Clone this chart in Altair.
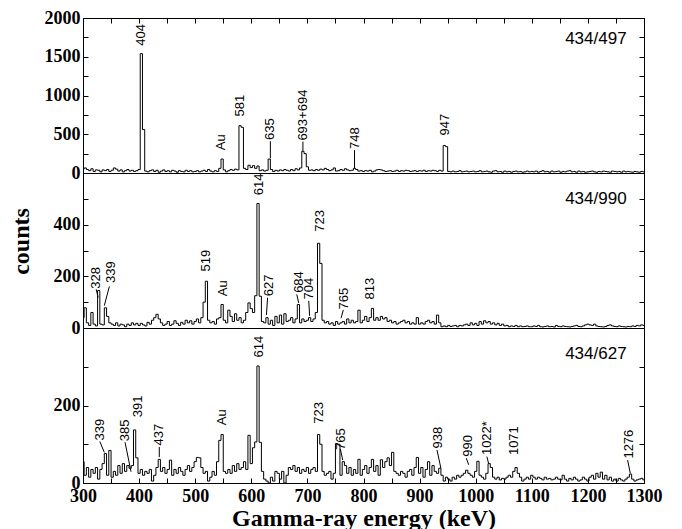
import altair as alt
import pandas as pd

# channel energies (keV), 4 keV bins
energy = list(range(300, 1301, 4))

# ---------------- spectrum 434/497 ----------------
counts_497 = (
    [50, 65, 45, 30, 55, 20, 40, 35, 15, 40, 30, 45, 20, 35, 65, 50, 25, 40, 15, 30, 45, 25, 35, 20, 30]
    + [45, 1540, 560, 25, 15, 30, 40, 20, 35, 10, 25, 40, 20, 30, 15, 35, 25, 10, 30, 20, 15, 35, 20, 30, 15]
    + [20, 30, 15, 25, 35, 20, 45, 25, 15, 30, 20, 60, 180, 40, 15, 30, 45, 35, 50, 40, 610, 590, 60, 45, 100]
    + [70, 95, 60, 90, 30, 40, 25, 35, 180, 45, 20, 35, 25, 40, 30, 45, 35, 25, 45, 30, 55, 40, 65, 280, 250]
    + [80, 35, 40, 30, 45, 35, 50, 40, 60, 45, 30, 40, 65, 25, 30, 45, 35, 55, 40, 30, 35, 60, 45, 25, 30]
    + [20, 30, 25, 35, 15, 25, 40, 45, 40, 30, 20, 25, 30, 20, 25, 35, 20, 30, 25, 35, 30, 20, 25, 30, 20]
    + [30, 25, 35, 20, 30, 25, 35, 30, 20, 35, 25, 355, 340, 20, 15, 25, 15, 20, 30, 15, 20, 25, 15, 20, 25]
    + [15, 20, 30, 15, 20, 25, 15, 10, 25, 30, 15, 20, 10, 25, 15, 20, 10, 20, 25, 15, 20, 10, 15, 25, 15]
    + [20, 15, 25, 10, 20, 30, 15, 20, 10, 25, 15, 20, 25, 10, 20, 15, 25, 30, 15, 20, 10, 25, 15, 20, 10]
    + [15, 20, 25, 15, 10, 20, 15, 25, 20, 15, 10, 25, 20, 15, 20, 10, 25, 15, 20, 15, 10, 20, 15, 10, 20]
    + [15]
)
labels_497 = ["404", "Au", "581", "635", "693+694", "748", "947"]
lab_x_497 = [403, 546, 579, 634, 692, 784, 946]
lab_y_497 = [1641, 295, 730, 427, 418, 311, 483]
lead_497 = {"x1": [634, 692, 784], "y1": [410, 405, 295], "x2": [634, 692, 784], "y2": [190, 285, 60]}

# ---------------- spectrum 434/990 ----------------
counts_990 = (
    [40, 78, 20, 10, 60, 15, 8, 145, 15, 12, 78, 45, 20, 15, 10, 20, 8, 15, 12, 5, 15, 10, 20, 12, 18]
    + [10, 18, 12, 8, 22, 15, 30, 40, 53, 35, 20, 10, 15, 25, 10, 15, 28, 18, 10, 22, 15, 30, 20, 28, 15]
    + [25, 35, 20, 40, 100, 181, 30, 20, 25, 15, 35, 40, 91, 30, 20, 69, 45, 25, 55, 30, 40, 20, 30, 60, 97]
    + [75, 60, 125, 482, 123, 25, 20, 40, 15, 30, 10, 45, 20, 50, 15, 55, 25, 30, 40, 20, 35, 91, 20, 35, 25]
    + [30, 40, 25, 35, 60, 328, 250, 30, 20, 25, 15, 20, 10, 25, 15, 20, 25, 15, 35, 20, 30, 20, 25, 69, 20]
    + [30, 45, 25, 40, 76, 30, 40, 30, 45, 35, 40, 25, 30, 20, 25, 15, 20, 25, 30, 20, 25, 15, 20, 15, 40]
    + [15, 20, 15, 25, 30, 20, 25, 15, 50, 20, 5, 8, 5, 10, 6, 8, 10, 5, 10, 8, 12, 15, 10, 20, 12]
    + [18, 10, 25, 15, 28, 20, 25, 15, 20, 12, 18, 10, 15, 8, 10, 5, 8, 6, 10, 5, 8, 5, 6, 8, 5]
    + [5, 8, 6, 10, 5, 4, 6, 8, 5, 6, 4, 10, 6, 5, 8, 6, 5, 4, 6, 8, 10, 6, 5, 8, 12]
    + [15, 12, 10, 15, 8, 6, 5, 4, 6, 10, 12, 8, 6, 5, 8, 6, 5, 4, 6, 5, 8, 6, 10, 8, 12]
    + [10]
)
labels_990 = ["328", "339", "519", "Au", "614", "627", "684", "704", "723", "765", "813"]
lab_x_990 = [324, 350, 519, 549, 614, 632, 684.5, 703.5, 722.5, 765, 811.6]
lab_y_990 = [152, 174, 219, 123, 514, 123, 136, 110, 373, 72, 110]
lead_990 = {"x1": [323.5, 347, 629, 681, 702.4, 764], "y1": [150, 161, 117, 130, 105, 70],
            "x2": [327, 338, 627, 684.5, 704, 760], "y2": [118, 87, 50, 97, 47, 38]}

# ---------------- spectrum 434/627 ----------------
counts_627 = (
    [55, 20, 40, 15, 35, 25, 40, 10, 35, 50, 76, 20, 84, 15, 30, 20, 45, 25, 50, 30, 45, 38, 45, 137, 65]
    + [25, 35, 20, 30, 25, 35, 5, 20, 40, 61, 30, 40, 25, 35, 59, 20, 35, 25, 40, 30, 20, 35, 45, 30, 40]
    + [55, 66, 65, 40, 25, 30, 5, 15, 30, 20, 55, 110, 125, 30, 25, 35, 25, 45, 30, 50, 35, 40, 55, 35, 123]
    + [50, 91, 106, 302, 105, 30, 10, 5, 0, 15, 5, 30, 25, 10, 30, 0, 20, 40, 35, 45, 30, 40, 25, 35, 30]
    + [40, 25, 35, 40, 30, 125, 100, 30, 20, 25, 30, 10, 25, 102, 100, 20, 55, 45, 25, 40, 20, 35, 25, 61, 20]
    + [35, 45, 25, 40, 61, 30, 45, 20, 60, 40, 55, 65, 45, 79, 30, 25, 20, 30, 25, 15, 30, 35, 20, 40, 66]
    + [25, 40, 15, 35, 55, 20, 45, 30, 25, 38, 20, 5, 15, 10, 5, 15, 10, 20, 15, 20, 25, 33, 25, 20, 15]
    + [30, 56, 20, 15, 10, 25, 50, 40, 15, 10, 15, 8, 12, 10, 15, 20, 15, 30, 40, 25, 15, 5, 10, 15, 10]
    + [20, 15, 10, 15, 12, 8, 15, 10, 12, 8, 10, 15, 10, 8, 20, 10, 5, 12, 8, 15, 10, 5, 8, 15, 10]
    + [5, 15, 20, 10, 25, 15, 28, 10, 20, 8, 15, 5, 10, 5, 12, 8, 5, 10, 15, 23, 10, 5, 8, 10, 12]
    + [8]
)
labels_627 = ["339", "385", "391", "437", "Au", "614", "723", "765", "938", "990", "1022*", "1071", "1276"]
lab_x_627 = [330, 375, 398.6, 436, 548, 614, 721.4, 760, 933.4, 985.6, 1020, 1068.8, 1272.6]
lab_y_627 = [110, 108, 170, 97, 149, 324, 153, 85, 89, 68, 72, 72, 63]
lead_627 = {"x1": [330, 375, 436, 758.7, 931, 983.3, 1020, 1270.8],
            "y1": [107, 105, 93, 88, 85, 64, 68, 59],
            "x2": [338, 385.6, 436, 763, 938, 987.5, 1023, 1275.6],
            "y2": [79, 29, 67, 59, 38, 47, 50, 25]}

panel_names = ["434/497", "434/990", "434/627"]
name_x = [1269, 1269, 1269]
name_y = [1731, 501, 333]

y_max = [2000, 600, 400]
y_tick_step = [250, 100, 100]
y_label_test = [
    "datum.value % 500 == 0 ? datum.label : ''",
    "datum.value % 200 == 0 && datum.value < 600 ? datum.label : ''",
    "datum.value % 200 == 0 && datum.value < 400 ? datum.label : ''",
]
x_ticks = list(range(300, 1301, 50))

W, H = 561, 155
SERIF = "Liberation Serif"
SANS = "Liberation Sans"


def panel(i, counts, labels, lx, ly, lead, position):
    ymax = y_max[i]
    ydom = alt.Scale(domain=[0, ymax], nice=False, zero=True)
    xdom = alt.Scale(domain=[300, 1300], nice=False, zero=False)
    yvals = list(range(0, ymax + 1, y_tick_step[i]))

    if position == "top":
        xaxis = alt.Axis(orient="top", values=x_ticks, labels=False, offset=-5, tickSize=5, title=None)
    elif position == "bottom":
        xaxis = alt.Axis(orient="bottom", values=x_ticks, format="d",
                         labelExpr="datum.value % 100 == 0 ? datum.label : ''",
                         labelFlush=False, labelFontWeight="bold", labelFont=SERIF, labelFontSize=18,
                         offset=-5, tickSize=5, labelPadding=4,
                         title="Gamma-ray energy (keV)", titlePadding=1)
    else:
        xaxis = None

    if position == "middle":
        yaxis_left = alt.Axis(orient="left", values=yvals, format="d", labelExpr=y_label_test[i],
                              offset=-5, tickSize=5, labelPadding=3,
                              title="counts", titlePadding=20, titleY=68)
    else:
        yaxis_left = alt.Axis(orient="left", values=yvals, format="d", labelExpr=y_label_test[i],
                              offset=-5, tickSize=5, labelPadding=3, title=None)
    yaxis_right = alt.Axis(orient="right", values=yvals, labels=False, offset=-5, tickSize=5, title=None)

    spec = pd.DataFrame({"E": energy, "c": counts})
    line = alt.Chart(spec).mark_line(interpolate="step", color="black", strokeWidth=1, clip=True).encode(
        x=alt.X("E:Q", scale=xdom, axis=xaxis),
        y=alt.Y("c:Q", scale=ydom, axis=yaxis_left),
    )

    ldf = pd.DataFrame({"t": labels, "lx": lx, "ly": ly})
    txt = alt.Chart(ldf).mark_text(angle=270, align="left", baseline="middle", font=SANS,
                                   fontSize=13, color="black").encode(
        x=alt.X("lx:Q", scale=xdom, axis=xaxis),
        y=alt.Y("ly:Q", scale=ydom, axis=None),
        text="t:N",
    )

    rdf = pd.DataFrame(lead)
    rules = alt.Chart(rdf).mark_rule(color="black", strokeWidth=1).encode(
        x=alt.X("x1:Q", scale=xdom, axis=xaxis),
        y=alt.Y("y1:Q", scale=ydom, axis=None),
        x2="x2:Q",
        y2="y2:Q",
    )

    ndf = pd.DataFrame({"n": [panel_names[i]], "nx": [name_x[i]], "ny": [name_y[i]]})
    name = alt.Chart(ndf).mark_text(align="right", baseline="middle", font=SANS, fontSize=17,
                                    color="black").encode(
        x=alt.X("nx:Q", scale=xdom, axis=xaxis),
        y=alt.Y("ny:Q", scale=ydom, axis=yaxis_right),
        text="n:N",
    )

    return alt.layer(line, rules, txt, name).resolve_axis(y="independent").properties(width=W, height=H)


p1 = panel(0, counts_497, labels_497, lab_x_497, lab_y_497, lead_497, "top")
p2 = panel(1, counts_990, labels_990, lab_x_990, lab_y_990, lead_990, "middle")
p3 = panel(2, counts_627, labels_627, lab_x_627, lab_y_627, lead_627, "bottom")

chart = (
    alt.vconcat(p1, p2, p3, spacing=0, bounds="flush")
    .properties(padding={"left": 0, "top": 0, "right": 5, "bottom": 0})
    .configure_view(stroke="black", strokeWidth=1)
    .configure_axis(
        labelFont=SERIF, labelFontWeight="bold", labelFontSize=18, labelColor="black",
        titleFont=SERIF, titleFontWeight="bold", titleFontSize=24, titleColor="black",
        tickColor="black", tickWidth=1, domain=False, grid=False, labelOverlap=False,
    )
)

chart.save("out.html", embed_options={"renderer": "svg", "actions": False})
